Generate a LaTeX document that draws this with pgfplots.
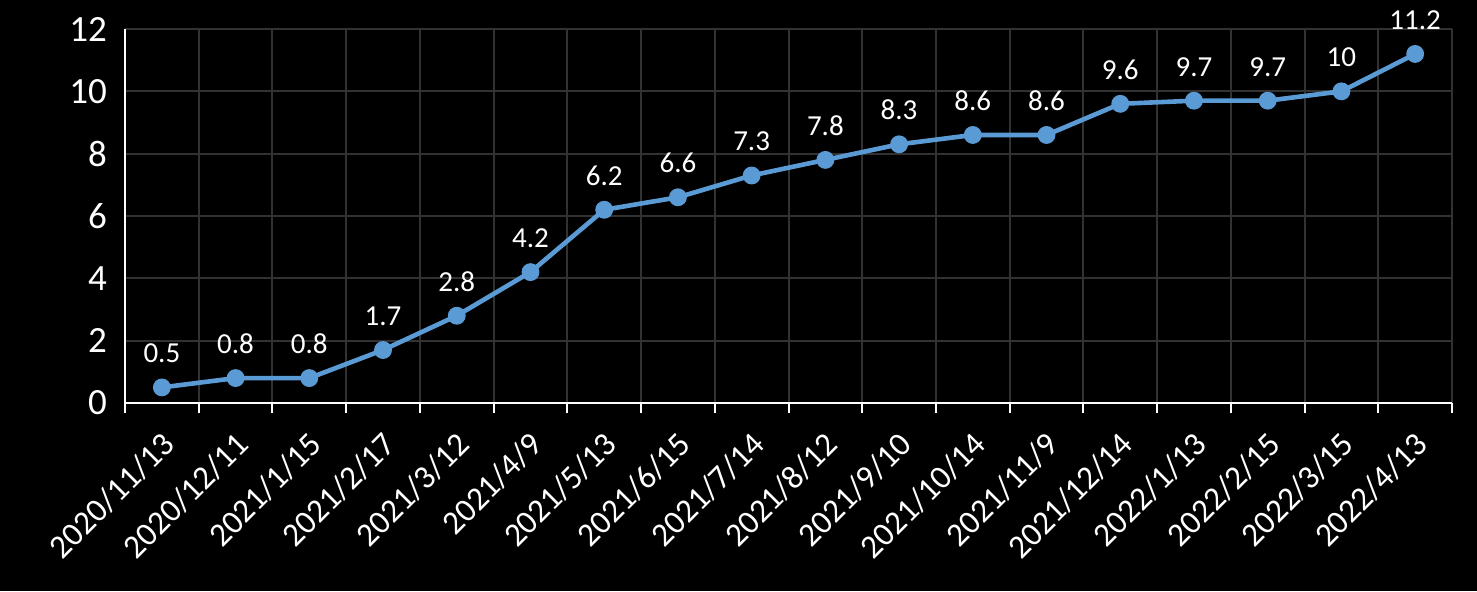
\documentclass[border=0pt]{standalone}
\usepackage{pgfplots}
\pgfplotsset{compat=1.18}
\usepackage{fontspec}
\setmainfont{Carlito}
\definecolor{lineblue}{HTML}{5B9BD5}
\definecolor{gridgray}{RGB}{50,50,50}
\begin{document}
\begin{tikzpicture}
\fill[black] (0,0) rectangle (738.5pt,295.5pt);
\useasboundingbox (0,0) rectangle (738.5pt,295.5pt);
\begin{axis}[
  at={(62.5pt,94pt)}, anchor=south west,
  scale only axis, width=663.5pt, height=187pt,
  xmin=-0.5, xmax=17.5, ymin=0, ymax=12,
  axis x line*=bottom, axis y line*=left,
  axis line style={white, line width=1pt, -},
  xtick={0,...,17},
  xticklabels={2020/11/13,2020/12/11,2021/1/15,2021/2/17,2021/3/12,2021/4/9,2021/5/13,2021/6/15,2021/7/14,2021/8/12,2021/9/10,2021/10/14,2021/11/9,2021/12/14,2022/1/13,2022/2/15,2022/3/15,2022/4/13},
  minor xtick={-0.5,0.5,...,17.5},
  major tick length=0pt, minor tick length=5pt,
  tick align=outside,
  minor x tick style={white, line width=1pt},
  ytick={0,2,...,12},
  xmajorgrids=false, xminorgrids=true, ymajorgrids=true,
  grid style={gridgray, line width=1pt},
  minor grid style={gridgray, line width=1pt},
  x tick label style={font=\fontsize{16.6}{16.6}\selectfont, white, xshift=-1pt, yshift=-12pt, rotate=45, anchor=north east, inner sep=1pt},
  y tick label style={font=\fontsize{18.5}{18.5}\selectfont, white, xshift=-5.5pt},
  /pgf/number format/assume math mode=true,
  clip=false,
]
\addplot[lineblue, line width=2.3pt, mark=*, mark size=3.3pt, mark options={fill=lineblue, draw=lineblue},
  nodes near coords,
  every node near coord/.append style={font=\fontsize{14.5}{14.5}\selectfont, white, anchor=south, inner sep=0pt, yshift=11pt}]
coordinates {
(0,0.5)(1,0.8)(2,0.8)(3,1.7)(4,2.8)(5,4.2)(6,6.2)(7,6.6)(8,7.3)(9,7.8)(10,8.3)(11,8.6)(12,8.6)(13,9.6)(14,9.7)(15,9.7)(16,10)(17,11.2)
};
\end{axis}
\end{tikzpicture}
\end{document}
